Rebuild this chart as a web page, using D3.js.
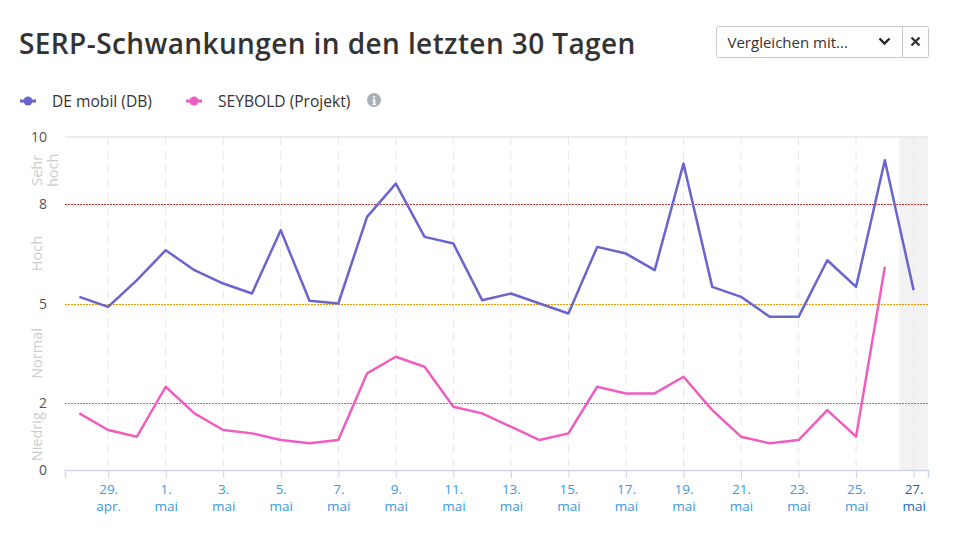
<!DOCTYPE html>
<html>
<head>
<meta charset="utf-8">
<script src="https://d3js.org/d3.v7.min.js"></script>
<style>
  body { margin: 0; background: #fff; font-family: "Open Sans", "Noto Sans", sans-serif; }
  svg text { font-family: "Open Sans", "Noto Sans", sans-serif; }
</style>
</head>
<body>
<div id="vis"></div>
<script>
  // first day of the series, one value per day
  const startDay = "2024-04-28"
  const deMobil = [5.2,4.9,5.7,6.6,6.0,5.6,5.3,7.2,5.08,5.0,7.6,8.6,7.0,6.8,5.1,5.3,5.0,4.7,6.7,6.5,6.0,9.2,5.5,5.2,4.6,4.6,6.3,5.5,9.3,5.4]
  const seybold = [1.7,1.2,1.0,2.5,1.7,1.2,1.1,0.9,0.8,0.9,2.9,3.4,3.1,1.9,1.7,1.3,0.9,1.1,2.5,2.3,2.3,2.8,1.8,1.0,0.8,0.9,1.8,1.0,6.1,null]
  const seriesNames = ["DE mobil (DB)", "SEYBOLD (Projekt)"]
  const seriesColors = ["#6a65cd", "#f05dc1"]
  const yTicks = [0, 2, 5, 8, 10]
  const levels = [
    {value: 8, color: "#cc3333"},
    {value: 5, color: "#ee9900"},
    {value: 2, color: "#3cb43c"}
  ]
  const bands = [
    {from: 8, to: 10, label: ["Sehr", "hoch"]},
    {from: 5, to: 8, label: ["Hoch"]},
    {from: 2, to: 5, label: ["Normal"]},
    {from: 0, to: 2, label: ["Niedrig"]}
  ]
  const monthNames = ["jan.","feb.","mär.","apr.","mai","jun."]

  const width = 968, height = 538
  const margin = {left: 65, right: 40, top: 137, bottom: 68}

  const svg = d3.select("#vis").append("svg")
    .attr("width", width)
    .attr("height", height)

  const parse = d3.utcParse("%Y-%m-%d")
  const day0 = parse(startDay)
  const dates = deMobil.map((d, i) => d3.utcDay.offset(day0, i))

  const x = d3.scaleUtc()
    .domain([d3.utcHour.offset(dates[0], -12), d3.utcHour.offset(dates[dates.length - 1], 12)])
    .range([margin.left, width - margin.right])

  const y = d3.scaleLinear()
    .domain([0, 10])
    .range([height - margin.bottom, margin.top])

  // title
  svg.append("text")
    .attr("x", 19)
    .attr("y", 54)
    .attr("fill", "#333")
    .style("font-size", "28px")
    .style("font-weight", 600)
    .style("letter-spacing", "0.4px")
    .text("SERP-Schwankungen in den letzten 30 Tagen")

  // compare dropdown
  const dd = svg.append("g").attr("transform", "translate(716.5,26.5)")
  dd.append("rect").attr("width", 212).attr("height", 31).attr("rx", 2)
    .attr("fill", "#fff").attr("stroke", "#c8c8c8")
  dd.append("line").attr("x1", 186).attr("x2", 186).attr("y1", 0).attr("y2", 31).attr("stroke", "#c8c8c8")
  dd.append("text").attr("x", 11).attr("y", 21).attr("fill", "#333")
    .style("font-size", "15px").text("Vergleichen mit...")
  dd.append("path").attr("d", "M163,12 L168,17 L173,12")
    .attr("fill", "none").attr("stroke", "#222").attr("stroke-width", 2.4)
  dd.append("path").attr("d", "M195,11 L203,19 M203,11 L195,19")
    .attr("fill", "none").attr("stroke", "#333").attr("stroke-width", 2.4)

  // legend
  const legend = svg.append("g").attr("transform", "translate(0,101)")
  const legX = [20, 186]
  seriesNames.forEach((name, i) => {
    const g = legend.append("g").attr("transform", "translate(" + legX[i] + ",0)")
    g.append("line").attr("x1", 0).attr("x2", 16).attr("stroke", seriesColors[i]).attr("stroke-width", 3)
    g.append("circle").attr("cx", 8).attr("r", 4.5).attr("fill", seriesColors[i])
    g.append("text").attr("x", 32).attr("y", 5.5).attr("fill", "#333")
      .style("font-size", "15.6px").text(name)
  })
  legend.append("circle").attr("cx", 374).attr("cy", -1).attr("r", 7).attr("fill", "#a9b1b8")
  legend.append("text").attr("x", 374).attr("y", 3.5).attr("text-anchor", "middle")
    .attr("fill", "#fff").style("font-size", "11px").style("font-weight", 700)
    .style("font-family", "DejaVu Serif").text("i")

  // today's band
  const last = dates[dates.length - 1]
  svg.append("rect")
    .attr("x", x(d3.utcHour.offset(last, -12)))
    .attr("y", y(10))
    .attr("width", x(d3.utcHour.offset(last, 12)) - x(d3.utcHour.offset(last, -12)))
    .attr("height", y(0) - y(10))
    .attr("fill", "#f2f2f2")

  // x ticks every 2 days from 29 apr
  const xTicks = dates.filter((d, i) => i % 2 === 1)

  svg.append("g").selectAll("line")
    .data(xTicks)
    .join("line")
    .attr("x1", d => x(d)).attr("x2", d => x(d))
    .attr("y1", y(10)).attr("y2", y(0))
    .attr("stroke", "#e6e6e6")
    .attr("stroke-dasharray", "8,6")

  // top grid line
  svg.append("line")
    .attr("x1", margin.left).attr("x2", width - margin.right)
    .attr("y1", y(10)).attr("y2", y(10))
    .attr("stroke", "#e6e6e6").attr("stroke-width", 1.5)

  // x axis
  const xAxis = svg.append("g")
    .attr("transform", "translate(0," + y(0) + ")")
    .call(d3.axisBottom(x).tickValues(xTicks).tickSize(8).tickFormat(""))
  xAxis.select(".domain").attr("stroke", "#ccd6eb").attr("stroke-width", 1.5)
  xAxis.selectAll(".tick line").attr("stroke", "#ccd6eb")
  xAxis.selectAll(".tick").each(function(d, i) {
    const isLast = +d === +last
    const t = d3.select(this).append("text")
      .attr("text-anchor", "middle")
      .attr("fill", isLast ? "#1b6bb0" : "#3b99e0")
      .style("font-size", "13.5px")
    t.append("tspan").attr("x", 0).attr("y", 24).text(d.getUTCDate() + ".")
    t.append("tspan").attr("x", 0).attr("y", 41).text(monthNames[d.getUTCMonth()])
  })

  // level lines
  svg.append("g").selectAll("line")
    .data(levels)
    .join("line")
    .attr("x1", margin.left).attr("x2", width - margin.right)
    .attr("y1", d => Math.round(y(d.value)) + 0.5).attr("y2", d => Math.round(y(d.value)) + 0.5)
    .attr("stroke", d => d.color)
    .attr("stroke-width", 1)
    .attr("stroke-dasharray", "2,1")

  // y tick labels
  svg.append("g").selectAll("text")
    .data(yTicks)
    .join("text")
    .attr("x", 47)
    .attr("y", d => y(d) + 5)
    .attr("text-anchor", "end")
    .attr("fill", "#555")
    .style("font-size", "14px")
    .text(d => d)

  // band labels
  bands.forEach(b => {
    const cy = (y(b.from) + y(b.to)) / 2
    const t = svg.append("text")
      .attr("transform", "translate(" + (b.label.length > 1 ? 46 : 38) + "," + cy + ") rotate(-90)")
      .attr("text-anchor", "middle")
      .attr("fill", "#cccccc")
      .style("font-size", "14.5px")
    b.label.forEach((l, j) => {
      t.append("tspan").attr("x", 0).attr("y", b.label.length > 1 ? j * 16 - 4 : 4).text(l)
    })
  })

  // series lines
  const line = d3.line()
    .defined(d => d.v != null)
    .x(d => x(d.date))
    .y(d => y(d.v))

  ;[deMobil, seybold].forEach((vals, i) => {
    svg.append("path")
      .datum(vals.map((v, j) => ({date: dates[j], v: v})))
      .attr("fill", "none")
      .attr("stroke", seriesColors[i])
      .attr("stroke-width", 2.5)
      .attr("stroke-linejoin", "round")
      .attr("d", line)
  })
</script>
</body>
</html>
